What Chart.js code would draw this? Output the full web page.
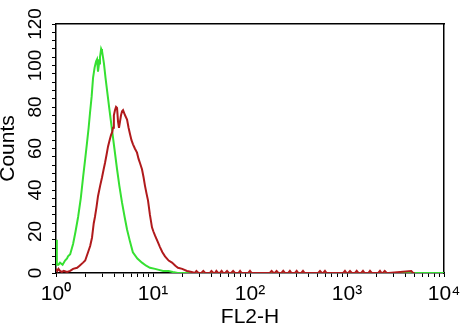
<!DOCTYPE html>
<html>
<head>
<meta charset="utf-8">
<script src="https://cdn.jsdelivr.net/npm/chart.js@4.4.1/dist/chart.umd.min.js"></script>
<style>
  body { margin: 0; background: #fff; }
  canvas { display: block; }
</style>
</head>
<body>
<canvas id="myChart" width="468" height="331"></canvas>
<script>
// FL2-H channel (log scale) and counts
const greenX = [1.0, 1.02, 1.06, 1.10, 1.17, 1.24, 1.30, 1.33, 1.40, 1.50, 1.59, 1.69, 1.80, 1.90, 2.0, 2.09, 2.17, 2.24, 2.33, 2.41, 2.50, 2.59, 2.65, 2.71, 2.78, 2.84, 2.92, 2.98, 3.05, 3.12, 3.24, 3.36, 3.55, 3.78, 4.0, 4.26, 4.5, 4.79, 5.1, 5.4, 5.8, 6.2, 6.9, 7.7, 8.5, 9.3, 10.5, 11.5, 12.7, 14.5, 16, 18, 10000];
const greenY = [16, 4, 4, 5, 4, 6, 7, 8, 9, 14, 20, 27, 36, 46, 55, 63, 70, 77, 85, 94, 99, 102, 103, 97, 101, 104, 108, 107, 104, 101, 94, 88, 79, 69, 60, 50, 42, 34, 27, 21, 15, 10, 7, 5, 3.5, 2.5, 2, 1.5, 1, 1, 0.5, 0, 0];

const redX = [1.0, 1.03, 1.06, 1.10, 1.15, 1.2, 1.3, 1.4, 1.5, 1.65, 1.75, 1.9, 2.0, 2.14, 2.25, 2.35, 2.45, 2.52, 2.62, 2.71, 2.85, 2.98, 3.1, 3.2, 3.32, 3.44, 3.57, 3.69, 3.8, 3.87, 3.95, 4.06, 4.16, 4.26, 4.36, 4.46, 4.57, 4.68, 4.8, 4.91, 5.15, 5.4, 5.6, 5.79, 6.0, 6.22, 6.5, 6.84, 7.1, 7.34, 7.7, 8.0, 8.27, 8.6, 8.88, 9.3, 9.76, 10.1, 10.5, 11.2, 11.8, 12.5, 13.3, 14.5, 15.7, 17, 18.1, 20, 22.4, 25,
  27, 28, 29.5, 31.5, 33, 34.5, 38.5, 40, 42, 43.5, 45, 47, 49, 51, 53, 55.5, 58, 60.5, 64, 67, 70, 76, 79, 82, 96, 100, 104, 160, 167, 175, 180, 188, 196, 211, 220, 229, 248, 258, 268, 291, 303, 315, 338, 352, 366, 505, 527, 550, 570, 593, 616, 915, 953, 990, 1030, 1074, 1120, 1210, 1259, 1310, 1400, 1462, 1520, 1660, 1726, 1800, 2100, 2188, 2270, 2350, 2450, 2566, 2680, 4600, 4790, 4980, 10000];
const redY = [2, 1, 2, 1, 0.5, 1, 0.5, 1, 2, 2.5, 3.5, 5, 6, 10, 13, 17, 24, 27, 32, 37, 42, 46, 50, 53, 57, 61, 64, 66.5, 68, 70, 76, 78.5, 80, 79.5, 73, 70, 73, 76, 78, 78.5, 76, 74, 70, 67, 64, 62, 60, 58, 55, 53, 50, 46, 42, 38, 35, 28, 22, 20, 18, 15, 12.5, 10, 8, 6, 5, 3.5, 2.5, 2, 1, 0.5,
  0, 1, 0, 0, 1, 0, 0, 1, 0, 0, 1, 0, 0, 1, 0, 0, 1, 0, 0, 1, 0, 0, 1, 0, 0, 1, 0, 0, 1, 0, 0, 1, 0, 0, 1, 0, 0, 1, 0, 0, 1, 0, 0, 1, 0, 0, 1, 0, 0, 1, 0, 0, 1, 0, 0, 1, 0, 0, 1, 0, 0, 1, 0, 0, 1, 0, 0, 1, 0, 0, 1, 0, 0, 1, 0, 0];

const xDecades = [1, 10, 100, 1000, 10000];
const xTickLabels = ['10\u2070', '10\u00b9', '10\u00b2', '10\u00b3', '10\u2074'];
const yLabels = [0, 20, 40, 60, 80, 100, 120];

const font = 'Liberation Sans, Arial, sans-serif';

function pts(xs, ys) {
    return xs.map((x, i) => ({x: x, y: ys[i]}));
}

new Chart(document.getElementById('myChart'), {
    type: 'line',
    data: {
        datasets: [{
            label: 'red',
            data: pts(redX, redY),
            borderColor: '#b01a1c',
            borderWidth: 2,
            pointRadius: 0,
            tension: 0
        }, {
            label: 'green',
            data: pts(greenX, greenY),
            borderColor: '#36e032',
            borderWidth: 2,
            pointRadius: 0,
            tension: 0
        }]
    },
    options: {
        responsive: false,
        animation: false,
        layout: { padding: { top: 24, right: 24, left: 0, bottom: 0 } },
        plugins: { legend: { display: false }, tooltip: { enabled: false } },
        scales: {
            x: {
                type: 'logarithmic',
                min: 1,
                max: 10000,
                afterBuildTicks: (scale) => {
                    const t = [];
                    xDecades.forEach((d) => {
                        if (d === 10000) { t.push({value: d}); return; }
                        for (let k = 1; k < 10; k++) t.push({value: d * k});
                    });
                    scale.ticks = t;
                },
                afterFit: (scale) => { scale.height = 58; },
                ticks: {
                    autoSkip: false,
                    maxRotation: 0,
                    minRotation: 0,
                    padding: 5,
                    color: '#000',
                    font: { family: font, size: 21 },
                    callback: (v) => {
                        const i = xDecades.indexOf(v);
                        return i >= 0 ? xTickLabels[i] : '';
                    }
                },
                grid: { drawOnChartArea: false, drawTicks: true, tickLength: 4, tickColor: '#000', tickWidth: 1 },
                border: { display: true, color: '#000', width: 1.5 },
                title: {
                    display: true,
                    text: 'FL2-H',
                    color: '#000',
                    font: { family: font, size: 21, lineHeight: 1 },
                    padding: { top: 0, bottom: 3.5 }
                }
            },
            y: {
                type: 'linear',
                min: 0,
                max: 120,
                afterBuildTicks: (scale) => {
                    const t = [];
                    for (let v = 0; v <= 120; v += 4) t.push({value: v});
                    scale.ticks = t;
                },
                afterFit: (scale) => { scale.width = 56; },
                ticks: {
                    autoSkip: false,
                    minRotation: 90,
                    maxRotation: 90,
                    crossAlign: 'center',
                    padding: 0,
                    color: '#000',
                    font: { family: font, size: 19 },
                    callback: (v) => yLabels.includes(v) ? String(v) : ''
                },
                grid: { drawOnChartArea: false, drawTicks: true, tickLength: 4, tickColor: '#000', tickWidth: 1 },
                border: { display: true, color: '#000', width: 1.5 },
                title: {
                    display: true,
                    text: 'Counts',
                    color: '#000',
                    font: { family: font, size: 21, lineHeight: 1 },
                    padding: { top: -2, bottom: 0 }
                }
            },
            x2: {
                type: 'linear',
                position: 'top',
                ticks: { display: false },
                grid: { display: false },
                border: { display: true, color: '#000', width: 1.5 },
                afterFit: (scale) => { scale.height = 0; }
            },
            y2: {
                type: 'linear',
                position: 'right',
                ticks: { display: false },
                grid: { display: false },
                border: { display: true, color: '#000', width: 1.5 },
                afterFit: (scale) => { scale.width = 0; }
            }
        }
    }
});
</script>
</body>
</html>
